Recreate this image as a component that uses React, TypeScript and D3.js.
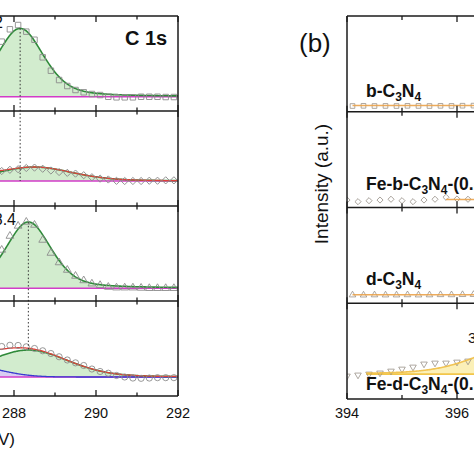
import React from 'react';
import * as d3 from 'd3';

// ---------- C 1s (panel a) ----------
const energyC = [287.7, 287.9, 288.1, 288.3, 288.5, 288.7, 288.9, 289.1, 289.3, 289.5, 289.7, 289.9, 290.1, 290.3, 290.5, 290.7, 290.9, 291.1, 291.3, 291.5, 291.7, 291.9];
const cBCN = [73, 86, 90.5, 83.5, 75, 56.5, 42.4, 32.6, 26.3, 22.1, 19.7, 17.9, 16.8, 15, 14.4, 14.4, 14.4, 15, 15, 15, 14.7, 14.7];
const cFeBCN = [36.8, 38.1, 38.7, 40, 40.4, 39.2, 37.4, 35.8, 34.9, 34.1, 32.4, 30.3, 28.8, 27.9, 26.5, 26.3, 26.3, 26.3, 26.6, 26.6, 27, 27];
const cDCN = [53.7, 68.4, 79, 83.2, 80, 64.2, 50.5, 40.5, 32.6, 26.3, 21.6, 18.2, 16.6, 14.7, 14, 14, 14, 13.7, 13.4, 13.4, 13.4, 13.4];
const cFeDCN = [52.1, 53.4, 53.2, 51.8, 50, 47.6, 44.7, 41.3, 37.9, 34.9, 32.1, 28.4, 25.8, 24, 21.6, 20, 18.9, 18.6, 18.9, 19.3, 19.3, 19.3];
const cSeries = [cBCN, cFeBCN, cDCN, cFeDCN];
const cMarkers = ['square', 'diamond', 'triangle', 'circle'];

// fitted components (pseudo-Voigt parameters)
const cMainCenter = [288.15, 288.5, 288.35, 288.35];
const cMainHwhm = [0.68, 1.1, 0.66, 1.15];
const cMainAmp = [72, 14.7, 69.8, 28.4];
const cMainMix = [0.4, 0.3, 0.4, 0.2];
const cBaseline = [15, 26.3, 13.4, 20];
const cLowCenter = [287.0, 287.0, 287.0, 287.0];
const cLowHwhm = [0.6, 0.6, 0.6, 0.85];
const cLowAmp = [0, 3, 0, 10.8];
const cShowLow = [false, false, false, true];
const cShowEnvelope = [false, true, false, true];
const cPeakLabels = ['288.2', '', '288.4', ''];

// dotted guide lines
const guideEnergy = [288.15, 288.35];
const guideFrom = [[0, 87], [2, 83]];
const guideTo = [[1, 26.3], [3, 48.4]];

const cTicksMajor = [288, 290, 292];
const cTicksMinor = [289, 291];

// ---------- N 1s (panel b) ----------
const energyNa = [394.1, 394.3, 394.5, 394.7, 394.9, 395.1, 395.3, 395.5, 395.7, 395.9, 396.1, 396.3];
const energyNb = [394.0, 394.2, 394.4, 394.6, 394.8, 395.0, 395.2, 395.4, 395.6, 395.8, 396.0, 396.2];
const nBCN = [6, 6.2, 6, 6.1, 6, 6.2, 6.1, 6, 6.2, 6.1, 6.3, 6.4];
const nFeBCN = [7.8, 6.1, 7.1, 7.8, 8.6, 7.1, 6.1, 7.8, 8.6, 10.7, 8.9, 8.6];
const nDCN = [8.6, 8.5, 8.7, 8.6, 8.6, 8.8, 8.6, 8.7, 8.9, 8.8, 9, 9.1];
const nFeDCN = [24, 25.1, 26.1, 27.2, 29.2, 31.3, 33.4, 36.6, 37.6, 37.6, 38.6, 39.7];
const nSeries = [nBCN, nFeBCN, nDCN, nFeDCN];
const nGrids = [energyNa, energyNb, energyNa, energyNb];
const nMarkers = ['square', 'diamond', 'triangle', 'triangleDown'];
const nFitStart = [394.1, 395.8, 394.1, 394.35];
const nFitLevel = [6.5, 8.3, 8.8, 26];
const nCompCenter = [0, 0, 0, 397.2];
const nCompHwhm = [1, 1, 1, 0.95];
const nCompAmp = [0, 0, 0, 32];
const nLabelMain = ['b-C', 'Fe-b-C', 'd-C', 'Fe-d-C'];
const nLabelTail = ['', '-(0.5)', '', '-(0.5)'];
const nLabelBaseline = [97, 190, 285, 390];
const nTicksMajor = [394, 396];
const nTicksMinor = [395];

const FONT = '"Liberation Sans", Arial, Helvetica, sans-serif';

function pv(x: number, c: number, h: number, a: number, m: number) {
  const t = (x - c) / h;
  return a * ((1 - m) * Math.exp(-Math.LN2 * t * t) + m / (1 + t * t));
}

function markerPath(kind: string) {
  if (kind === 'square') return d3.symbol(d3.symbolSquare, 30)() as string;
  if (kind === 'diamond') return d3.symbol(d3.symbolSquare, 26)() as string;
  if (kind === 'circle') return d3.symbol(d3.symbolCircle, 30)() as string;
  return d3.symbol(d3.symbolTriangle, 26)() as string;
}
function markerRot(kind: string) {
  if (kind === 'diamond') return 45;
  if (kind === 'triangleDown') return 180;
  return 0;
}

export default function App() {
  const xL = d3.scaleLinear().domain([288, 292]).range([14, 178]);
  const xR = d3.scaleLinear().domain([394, 396]).range([347, 457]);
  const leftTops = [16, 111, 206, 301];
  const leftH = 95;
  const rightTops = [16, 111.75, 207.5, 303.25];
  const rightH = 95.75;
  const yL = (i: number) => d3.scaleLinear().domain([0, 100]).range([leftTops[i] + leftH, leftTops[i]]);
  const yR = (i: number) => d3.scaleLinear().domain([0, 100]).range([rightTops[i] + rightH, rightTops[i]]);
  const fine = d3.range(287.3, 292.01, 0.02);
  const fineN = d3.range(394.3, 397.0, 0.02);
  const frame = '#1b1b1b';

  const leftPanels = [0, 1, 2, 3].map((i) => {
    const y = yL(i);
    const base = cBaseline[i];
    const main = (e: number) => pv(e, cMainCenter[i], cMainHwhm[i], cMainAmp[i], cMainMix[i]);
    const low = (e: number) => pv(e, cLowCenter[i], cLowHwhm[i], cLowAmp[i], 0);
    const area = d3.area<number>().x((e) => xL(e)).y0(y(base)).y1((e) => y(base + main(e)))(fine) as string;
    const mainLine = d3.line<number>().x((e) => xL(e)).y((e) => y(base + main(e)))(fine) as string;
    const lowArea = d3.area<number>().x((e) => xL(e)).y0(y(base)).y1((e) => y(base + low(e)))(fine) as string;
    const lowLine = d3.line<number>().x((e) => xL(e)).y((e) => y(base + low(e)))(fine) as string;
    const env = d3.line<number>().x((e) => xL(e)).y((e) => y(base + main(e) + low(e)))(fine) as string;
    const baseLine = d3.line<number>().x((e) => xL(e)).y(() => y(base))(fine) as string;
    const mk = markerPath(cMarkers[i]);
    const rot = markerRot(cMarkers[i]);
    return (
      <g key={'L' + i} clipPath="url(#clipL)">
        <path d={area} fill="#d2ecce" stroke="none" />
        {cShowLow[i] && <path d={lowArea} fill="#d9cdf2" stroke="none" />}
        <path d={baseLine} fill="none" stroke="#d23cc8" strokeWidth={1.6} />
        {cShowLow[i] && <path d={lowLine} fill="none" stroke="#3a3ad0" strokeWidth={1.3} />}
        <path d={mainLine} fill="none" stroke="#2f8a3a" strokeWidth={1.6} />
        {cShowEnvelope[i] && <path d={env} fill="none" stroke="#e0403a" strokeWidth={1.3} />}
        {energyC.map((e, k) => (
          <path key={k} d={mk} transform={`translate(${xL(e)},${y(cSeries[i][k])}) rotate(${rot})`} fill="none" stroke="#8c8c8c" strokeWidth={0.9} />
        ))}
      </g>
    );
  });

  const rightPanels = [0, 1, 2, 3].map((i) => {
    const y = yR(i);
    const lvl = nFitLevel[i];
    const comp = (e: number) => pv(e, nCompCenter[i], nCompHwhm[i], nCompAmp[i], 0.3);
    const xs = fineN.filter((e) => e >= nFitStart[i]);
    xs.unshift(nFitStart[i]);
    const compArea = d3.area<number>().x((e) => xR(e)).y0(y(lvl)).y1((e) => y(lvl + comp(e)))(xs) as string;
    const fitLine = d3.line<number>().x((e) => xR(e)).y((e) => y(lvl + comp(e)))(xs) as string;
    const baseLine = d3.line<number>().x((e) => xR(e)).y(() => y(lvl))(xs) as string;
    const mk = markerPath(nMarkers[i]);
    const rot = markerRot(nMarkers[i]);
    return (
      <g key={'R' + i} clipPath="url(#clipR)">
        {nCompAmp[i] > 0 && <path d={compArea} fill="#fbf0b8" stroke="none" />}
        {nCompAmp[i] > 0 && <path d={baseLine} fill="none" stroke="#f2c64a" strokeWidth={1.6} />}
        {nGrids[i].map((e, k) => (
          <path key={k} d={mk} transform={`translate(${xR(e)},${y(nSeries[i][k])}) rotate(${rot}) scale(0.85)`} fill="none" stroke="#948d84" strokeWidth={0.9} />
        ))}
        <path d={fitLine} fill="none" stroke={nCompAmp[i] > 0 ? '#f0be45' : '#eaa24a'} strokeWidth={1.6} opacity={0.9} />
      </g>
    );
  });

  const leftTicks = leftTops.map((t, i) => {
    const b = t + leftH;
    return (
      <g key={'lt' + i} stroke={frame} strokeWidth={1.3}>
        {cTicksMajor.map((v) => (
          <g key={v}>
            <line x1={xL(v)} x2={xL(v)} y1={t} y2={t + 6} />
            <line x1={xL(v)} x2={xL(v)} y1={b} y2={b - 6} />
          </g>
        ))}
        {cTicksMinor.map((v) => (
          <g key={v}>
            <line x1={xL(v)} x2={xL(v)} y1={t} y2={t + 3.5} />
            <line x1={xL(v)} x2={xL(v)} y1={b} y2={b - 3.5} />
          </g>
        ))}
      </g>
    );
  });
  const rightTicks = rightTops.map((t, i) => {
    const b = t + rightH;
    return (
      <g key={'rt' + i} stroke={frame} strokeWidth={1.3}>
        {nTicksMajor.map((v) => (
          <g key={v}>
            <line x1={xR(v)} x2={xR(v)} y1={t} y2={t + 6} />
            <line x1={xR(v)} x2={xR(v)} y1={b} y2={b - 6} />
          </g>
        ))}
        {nTicksMinor.map((v) => (
          <g key={v}>
            <line x1={xR(v)} x2={xR(v)} y1={t} y2={t + 4} />
            <line x1={xR(v)} x2={xR(v)} y1={b} y2={b - 4} />
          </g>
        ))}
      </g>
    );
  });

  const leftBottom = leftTops[3] + leftH;
  const rightBottom = rightTops[3] + rightH;

  return (
    <svg width={474} height={474} viewBox="0 0 474 474" style={{ position: 'absolute', left: 0, top: 0, background: '#fff' }} fontFamily={FONT}>
      <defs>
        <clipPath id="clipL"><rect x={-20} y={leftTops[0]} width={xL(292) + 20} height={leftH * 4} /></clipPath>
        <clipPath id="clipR"><rect x={xR(394)} y={rightTops[0]} width={200} height={rightH * 4} /></clipPath>
      </defs>
      <rect x={0} y={0} width={474} height={474} fill="#fff" />

      {leftPanels}
      {guideEnergy.map((e, k) => (
        <line key={'g' + k} x1={xL(e)} x2={xL(e)} y1={yL(guideFrom[k][0])(guideFrom[k][1])} y2={yL(guideTo[k][0])(guideTo[k][1])} stroke="#333" strokeWidth={1} strokeDasharray="1.5,2.2" />
      ))}
      <g stroke={frame} strokeWidth={1.5} fill="none">
        {leftTops.map((t, i) => <line key={i} x1={-5} x2={xL(292)} y1={t} y2={t} />)}
        <line x1={-5} x2={xL(292)} y1={leftBottom} y2={leftBottom} />
        <line x1={xL(292)} x2={xL(292)} y1={leftTops[0]} y2={leftBottom} />
      </g>
      {leftTicks}
      {cTicksMajor.map((v) => (
        <text key={v} x={xL(v)} y={418} fontSize={14.5} textAnchor="middle" fill="#111">{v}</text>
      ))}
      <text x={15} y={445} fontSize={17} textAnchor="end" fill="#111">Binding Energy (eV)</text>
      <text x={125} y={45} fontSize={20} fontWeight="bold" fill="#111">C 1s</text>
      {cPeakLabels.map((s, i) => s ? (
        <text key={'pl' + i} x={i === 0 ? 3 : 16} y={i === 0 ? 28 : 225} fontSize={16} textAnchor="end" fill="#111">{s}</text>
      ) : null)}

      {rightPanels}
      <g stroke={frame} strokeWidth={1.5} fill="none">
        {rightTops.map((t, i) => <line key={i} x1={xR(394)} x2={480} y1={t} y2={t} />)}
        <line x1={xR(394)} x2={480} y1={rightBottom} y2={rightBottom} />
        <line x1={xR(394)} x2={xR(394)} y1={rightTops[0]} y2={rightBottom} />
      </g>
      {rightTicks}
      {nTicksMajor.map((v) => (
        <text key={v} x={xR(v)} y={418} fontSize={14.5} textAnchor="middle" fill="#111">{v}</text>
      ))}
      <text x={299} y={52} fontSize={26} fill="#111">(b)</text>
      <text transform="translate(328,184) rotate(-90)" fontSize={19} textAnchor="middle" fill="#111">Intensity (a.u.)</text>
      {nLabelMain.map((s, i) => (
        <text key={'nl' + i} x={366} y={nLabelBaseline[i]} fontSize={17.5} fontWeight="bold" fill="#111">
          {s}
          <tspan fontSize={12} dy={4}>3</tspan>
          <tspan dy={-4}>N</tspan>
          <tspan fontSize={12} dy={4}>4</tspan>
          <tspan dy={-4}>{nLabelTail[i]}</tspan>
        </text>
      ))}
      <text x={468} y={343} fontSize={15} fill="#111">398.6</text>
    </svg>
  );
}
